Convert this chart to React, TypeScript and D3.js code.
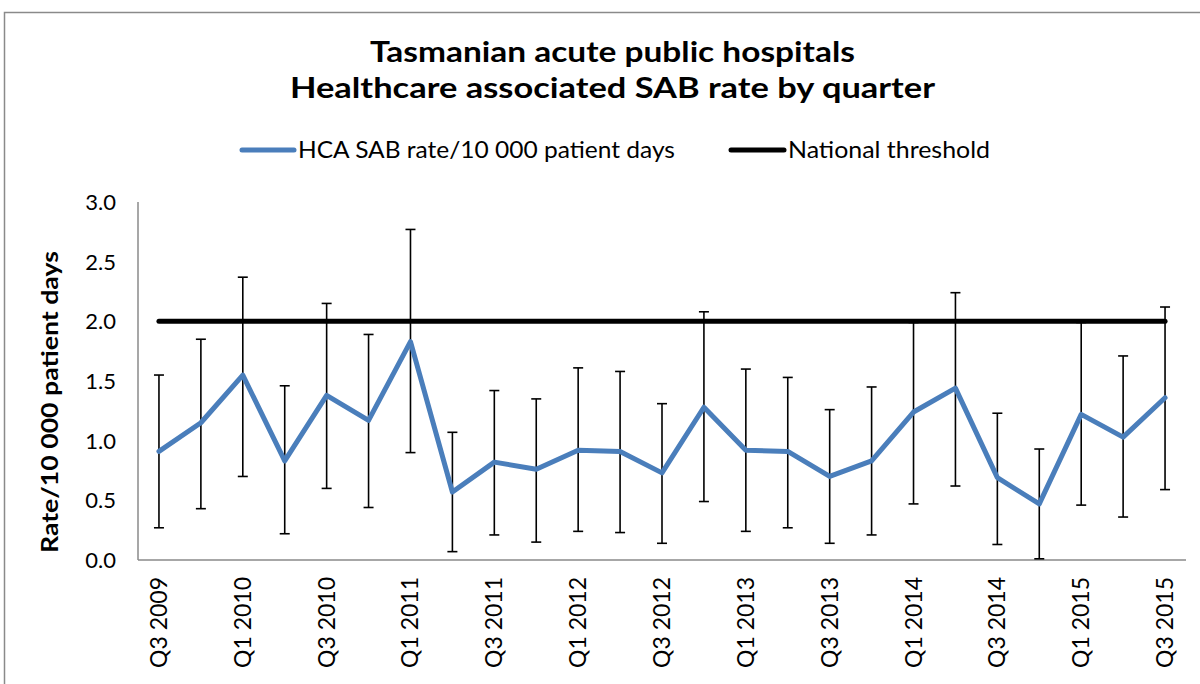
import * as d3 from 'd3'

const quarters = [
    'Q3 2009', 'Q4 2009', 'Q1 2010', 'Q2 2010', 'Q3 2010', 'Q4 2010', 'Q1 2011', 'Q2 2011',
    'Q3 2011', 'Q4 2011', 'Q1 2012', 'Q2 2012', 'Q3 2012', 'Q4 2012', 'Q1 2013', 'Q2 2013',
    'Q3 2013', 'Q4 2013', 'Q1 2014', 'Q2 2014', 'Q3 2014', 'Q4 2014', 'Q1 2015', 'Q2 2015',
    'Q3 2015',
]
const rate = [
    0.91, 1.15, 1.55, 0.83, 1.38, 1.17, 1.83, 0.57,
    0.82, 0.76, 0.92, 0.91, 0.73, 1.28, 0.92, 0.91,
    0.70, 0.83, 1.24, 1.44, 0.69, 0.47, 1.22, 1.03,
    1.36,
]
const upper = [
    1.55, 1.85, 2.37, 1.46, 2.15, 1.89, 2.77, 1.07,
    1.42, 1.35, 1.61, 1.58, 1.31, 2.08, 1.60, 1.53,
    1.26, 1.45, 1.99, 2.24, 1.23, 0.93, 1.99, 1.71,
    2.12,
]
const lower = [
    0.27, 0.43, 0.70, 0.22, 0.60, 0.44, 0.90, 0.07,
    0.21, 0.15, 0.24, 0.23, 0.14, 0.49, 0.24, 0.27,
    0.14, 0.21, 0.47, 0.62, 0.13, 0.01, 0.46, 0.36,
    0.59,
]
const threshold = 2.0
const yTicks = [0, 0.5, 1, 1.5, 2, 2.5, 3]

const W = 1200
const H = 684
const FONT = 'Lato, "Open Sans", sans-serif'
const BLUE = '#4a7ebb'

const App = () => {
    const margin = { top: 202, right: 14, bottom: 124, left: 138 }

    const x = d3.scaleBand<string>()
        .domain(quarters)
        .range([margin.left, W - margin.right])
    const y = d3.scaleLinear()
        .domain([0, 3])
        .range([H - margin.bottom, margin.top])

    const cx = (q: string) => (x(q) as number) + x.bandwidth() / 2

    const line = d3.line<number>()
        .x((_, i) => cx(quarters[i]))
        .y(d => y(d))

    const first = cx(quarters[0])
    const last = cx(quarters[quarters.length - 1])

    return (
        <svg width={W} height={H} style={{ position: 'absolute', left: 0, top: 0 }} fontFamily={FONT}>
            <rect x={0} y={0} width={W} height={H} fill="white" />
            {/* chart frame */}
            <path d={`M4.5,${H} V12.5 H${W}`} fill="none" stroke="#8a8a8a" strokeWidth={1.5} />

            <text x={370} y={62} fontSize={29} fontWeight="bold" textLength={485} lengthAdjust="spacingAndGlyphs">Tasmanian acute public hospitals</text>
            <text x={290} y={98} fontSize={29} fontWeight="bold" textLength={645} lengthAdjust="spacingAndGlyphs">Healthcare associated SAB rate by quarter</text>

            {/* legend */}
            <g fontSize={24}>
                <line x1={242} x2={294} y1={150} y2={150} stroke={BLUE} strokeWidth={5} strokeLinecap="round" />
                <text x={298} y={158} textLength={377} lengthAdjust="spacingAndGlyphs">HCA SAB rate/10 000 patient days</text>
                <line x1={731} x2={784} y1={150} y2={150} stroke="black" strokeWidth={5} strokeLinecap="round" />
                <text x={788} y={158} textLength={202} lengthAdjust="spacingAndGlyphs">National threshold</text>
            </g>

            {/* axes */}
            <line x1={margin.left} x2={margin.left} y1={y(3)} y2={y(0)} stroke="#8a8a8a" strokeWidth={1.5} />
            <line x1={margin.left} x2={W - margin.right} y1={y(0)} y2={y(0)} stroke="#8a8a8a" strokeWidth={1.5} />
            <g fontSize={22} textAnchor="end">
                {yTicks.map(t => (
                    <text key={t} x={116} y={y(t) + 8}>{d3.format('.1f')(t)}</text>
                ))}
            </g>
            <text x={-553} y={58} transform="rotate(-90)" fontSize={22} fontWeight="bold" textLength={302} lengthAdjust="spacingAndGlyphs">Rate/10 000 patient days</text>
            <g fontSize={23} textAnchor="end">
                {quarters.map((q, i) => i % 2 === 0 ? (
                    <text key={q} transform={`translate(${cx(q) + 8},${y(0) + 17}) rotate(-90)`}>{q}</text>
                ) : null)}
            </g>

            {/* threshold */}
            <line x1={first} x2={last} y1={y(threshold)} y2={y(threshold)} stroke="black" strokeWidth={5} strokeLinecap="round" />

            {/* error bars */}
            <g stroke="black" strokeWidth={1.6}>
                {quarters.map((q, i) => (
                    <g key={q}>
                        <line x1={cx(q)} x2={cx(q)} y1={y(upper[i])} y2={y(lower[i])} />
                        <line x1={cx(q) - 5} x2={cx(q) + 5} y1={y(upper[i])} y2={y(upper[i])} />
                        <line x1={cx(q) - 5} x2={cx(q) + 5} y1={y(lower[i])} y2={y(lower[i])} />
                    </g>
                ))}
            </g>

            <path d={line(rate) as string} fill="none" stroke={BLUE} strokeWidth={5} strokeLinejoin="round" strokeLinecap="round" />
        </svg>
    )
}

export default App
